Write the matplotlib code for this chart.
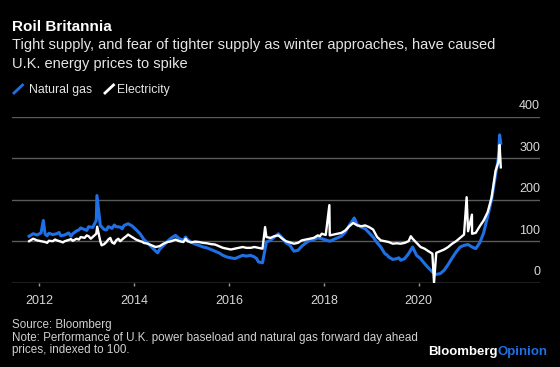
import pandas as pd
import matplotlib
matplotlib.use("Agg")
import matplotlib.pyplot as plt
import matplotlib.dates as mdates
from matplotlib.lines import Line2D

plt.rcParams['font.family'] = ['Liberation Sans', 'DejaVu Sans']

# monthly readings, Oct 2011 .. Sep 2021 (indexed to 100)
months = pd.date_range("2011-10-01", "2021-09-01", freq="MS") + pd.Timedelta(days=14)

gas = [112, 118, 115,
       120, 117, 119, 116, 118, 113, 115, 120, 118, 125, 132, 128,
       135, 133, 150, 138, 128, 135, 131, 135, 134, 138, 142, 137,
       128, 118, 105, 95, 86, 76, 80, 90, 100, 108, 114, 106,
       102, 104, 98, 93, 90, 86, 84, 80, 76, 72, 66, 62,
       60, 58, 62, 66, 64, 66, 62, 50, 48, 98, 102, 110,
       118, 108, 96, 90, 76, 78, 88, 96, 102, 104, 108, 106,
       103, 100, 104, 108, 112, 122, 138, 152, 140, 134, 130, 120,
       110, 96, 86, 70, 62, 56, 58, 54, 58, 70, 86, 66,
       58, 46, 36, 26, 20, 22, 30, 44, 60, 74, 86, 90,
       92, 86, 82, 96, 120, 160, 200, 260, 356]

power = [100, 106, 102,
         100, 98, 101, 100, 102, 99, 100, 103, 101, 106, 110, 108,
         112, 110, 118, 100, 93, 104, 97, 102, 100, 108, 116, 110,
         104, 100, 96, 94, 90, 86, 88, 94, 98, 100, 104, 100,
         98, 100, 97, 99, 98, 96, 95, 93, 92, 88, 84, 82,
         80, 82, 84, 86, 84, 84, 86, 84, 82, 110, 108, 112,
         114, 106, 100, 97, 94, 96, 102, 104, 106, 108, 114, 118,
         115, 114, 116, 118, 120, 126, 136, 144, 138, 136, 138, 134,
         128, 110, 102, 100, 98, 94, 95, 94, 96, 100, 106, 96,
         86, 82, 76, 70, 72, 76, 80, 86, 94, 100, 108, 116,
         124, 118, 120, 136, 150, 170, 205, 270, 332]

# extra readings between the monthly ones (spikes and wiggles)
gas_extra_dates = ["2012-02-01", "2012-03-01", "2012-06-01", "2012-09-01", "2012-11-01",
                   "2013-01-01", "2013-03-20", "2013-06-01", "2013-08-01", "2013-10-01",
                   "2014-07-01", "2015-02-01", "2016-08-01", "2017-05-01", "2018-08-22",
                   "2019-05-01", "2019-08-01", "2021-09-05", "2021-09-24"]
gas_extra_vals = [150, 113, 121, 112, 127, 126, 210, 127, 139, 130,
                  72, 110, 58, 82, 156, 67, 60, 300, 336]
power_extra_dates = ["2012-03-01", "2012-05-01", "2012-07-01", "2012-09-01", "2012-11-01",
                     "2013-01-01", "2013-02-01", "2013-03-22", "2013-04-25", "2013-06-01",
                     "2013-07-01", "2013-08-01", "2013-09-01", "2013-11-01", "2014-03-01",
                     "2015-02-01", "2016-10-05", "2017-12-01", "2018-02-12", "2019-11-01",
                     "2020-04-28", "2021-01-04", "2021-02-14", "2021-09-05", "2021-09-24"]
power_extra_vals = [96, 104, 97, 105, 104, 114, 106, 135, 90, 98,
                    108, 94, 106, 112, 99, 106, 134, 112, 187, 112,
                    0, 206, 164, 290, 278]

yticks = [0, 100, 200, 300, 400]
xtick_years = [2012, 2014, 2016, 2018, 2020]


def build(vals, edates, evals):
    s = pd.concat([pd.Series(vals, index=months),
                   pd.Series(evals, index=pd.to_datetime(edates))])
    return s.sort_index()


gas_s = build(gas, gas_extra_dates, gas_extra_vals)
power_s = build(power, power_extra_dates, power_extra_vals)

W, H = 560, 367
blue = '#1f6fe5'


def fx(px):
    return px / W


def fy(py):
    return 1 - py / H


fig = plt.figure(figsize=(W / 100, H / 100), dpi=100, facecolor='black')
ax = fig.add_axes([fx(12), fy(282.7), fx(540) - fx(12), fy(116.7) - fy(282.7)])
ax.set_facecolor('black')

for v in yticks[1:]:
    ax.axhline(v, color='#5a5a5a', lw=1, zorder=1)
ax.axhline(0, color='#9a9a9a', lw=1, zorder=1)

ax.plot(gas_s.index, gas_s.values, color=blue, lw=2.2, zorder=3, solid_joinstyle='round')
ax.plot(power_s.index, power_s.values, color='white', lw=1.7, zorder=4, solid_joinstyle='round')

ax.set_ylim(0, 400)
ax.set_xlim(pd.Timestamp("2011-06-05"), pd.Timestamp("2022-07-23"))
for s in ax.spines.values():
    s.set_visible(False)

ax.set_yticks([])
ax.set_xticks([pd.Timestamp(f"{y}-01-01") for y in xtick_years])
ax.xaxis.set_major_formatter(mdates.DateFormatter('%Y'))
ax.tick_params(axis='x', colors='#9a9a9a', length=2.5, width=1, pad=6,
               labelsize=9, labelcolor='#d8d8d8')

for v in yticks:
    ax.annotate(str(v), xy=(1.0, v), xycoords=('axes fraction', 'data'),
                xytext=(0, 5.5), textcoords='offset points',
                ha='right', va='baseline', fontsize=9, color='#d8d8d8')

# header
fig.text(fx(12.5), fy(30.7), "Roil Britannia", fontsize=11, fontweight='bold',
         color='white', va='baseline')
fig.text(fx(12.5), fy(49), "Tight supply, and fear of tighter supply as winter approaches, have caused",
         fontsize=10.5, color='#e6e6e6', va='baseline')
fig.text(fx(12.5), fy(67.7), "U.K. energy prices to spike",
         fontsize=10.5, color='#e6e6e6', va='baseline')

# legend
fig.add_artist(Line2D([fx(14), fx(22.5)], [fy(93), fy(85)], color=blue, lw=2))
fig.text(fx(29), fy(93.3), "Natural gas", fontsize=8.8, color='#e6e6e6', va='baseline')
fig.add_artist(Line2D([fx(105), fx(113.5)], [fy(93), fy(85)], color='white', lw=2))
fig.text(fx(117), fy(93.3), "Electricity", fontsize=8.8, color='#e6e6e6', va='baseline')

# footer
fig.text(fx(12.5), fy(328.3), "Source: Bloomberg", fontsize=8.4, color='#d0d0d0', va='baseline')
fig.text(fx(12.5), fy(341), "Note: Performance of U.K. power baseload and natural gas forward day ahead",
         fontsize=8.4, color='#d0d0d0', va='baseline')
fig.text(fx(12.5), fy(353.5), "prices, indexed to 100.", fontsize=8.4, color='#d0d0d0', va='baseline')

op = fig.text(fx(548), fy(355), "Opinion", fontsize=9.5, fontweight='bold',
              color=blue, ha='right', va='baseline')
fig.canvas.draw()
bb = op.get_window_extent(renderer=fig.canvas.get_renderer())
fig.text(bb.x0 / W, fy(355), "Bloomberg", fontsize=9.5, fontweight='bold',
         color='white', ha='right', va='baseline')

fig.savefig("out.png", dpi=100, facecolor='black')
